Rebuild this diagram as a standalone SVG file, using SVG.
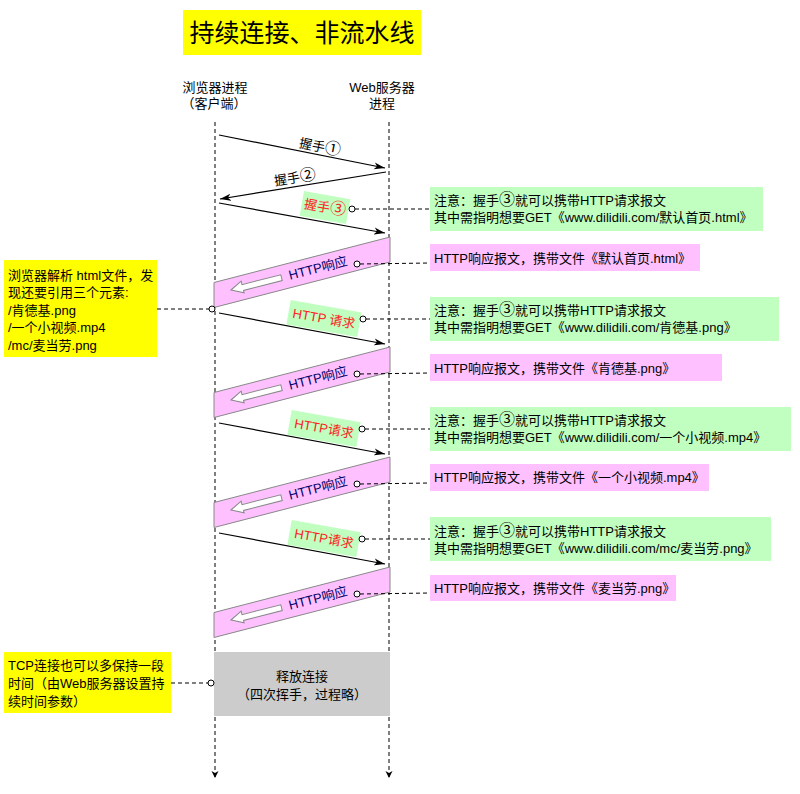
<svg xmlns="http://www.w3.org/2000/svg" width="800" height="794" viewBox="0 0 800 794">
<style>
text{font-family:"Liberation Sans","Noto Sans CJK SC",sans-serif;font-size:13px;fill:#000}
.mid{text-anchor:middle}
.cd{font-family:"Noto Sans CJK SC",sans-serif;font-size:16px}
.life{stroke:#000;stroke-width:1;stroke-dasharray:4,3;fill:none}
.msg{stroke:#000;stroke-width:1.2;fill:none}
.link{stroke:#000;stroke-width:1;stroke-dasharray:4,3;fill:none}
.dot{fill:#fff;stroke:#000;stroke-width:1}
.yel{fill:#ffff00}
.grn{fill:#c0ffc0}
.pnk{fill:#ffc0ff}
.resp{fill:#ffc0ff;stroke:#888;stroke-width:1}
.warr{fill:#fff;stroke:#888;stroke-width:1}
.red{fill:#ff2020}
.navy{fill:#000066}
</style>
<defs>
<marker id="ah" markerWidth="12" markerHeight="8" refX="11" refY="4" orient="auto" markerUnits="userSpaceOnUse"><path d="M0,0.5 L11,4 L0,7.5 L3,4 z" fill="#000"/></marker>
<marker id="lah" markerWidth="8" markerHeight="8" refX="7" refY="3.5" orient="auto" markerUnits="userSpaceOnUse"><path d="M0,0 L7,3.5 L0,7 L2,3.5 z" fill="#000"/></marker>
<polygon id="warrow" points="0,0 12,-6 12,-2.5 52,-2.5 52,3.5 12,3.5 12,6" class="warr"/>
</defs>
<rect width="800" height="794" fill="#fff"/>

<g id="title">
<rect x="183" y="10" width="238" height="45" class="yel"/>
<text x="302" y="42" class="mid" style="font-size:25px">持续连接、非流水线</text>
</g>

<g id="header-client">
<text x="215" y="92" class="mid">浏览器进程</text>
<text x="214" y="108" class="mid">（客户端）</text>
</g>
<g id="header-server">
<text x="382" y="92" class="mid">Web服务器</text>
<text x="382" y="108" class="mid">进程</text>
</g>

<g id="lifelines">
<line x1="215" y1="122" x2="215" y2="778" class="life" marker-end="url(#lah)"/>
<line x1="389" y1="122" x2="389" y2="778" class="life" marker-end="url(#lah)"/>
</g>

<g id="response1">
<polygon points="390,237 390,262 214,307.5 214,282.5" class="resp"/>
<use href="#warrow" transform="translate(231,290) rotate(-14.3)"/>
<text class="mid navy" transform="translate(318,268) rotate(-14.3)" y="4.5">HTTP响应</text>
</g>
<g id="response2">
<polygon points="390,347 390,372 214,417.5 214,392.5" class="resp"/>
<use href="#warrow" transform="translate(231,400) rotate(-14.3)"/>
<text class="mid navy" transform="translate(318,378) rotate(-14.3)" y="4.5">HTTP响应</text>
</g>
<g id="response3">
<polygon points="390,457 390,482 214,527.5 214,502.5" class="resp"/>
<use href="#warrow" transform="translate(231,510) rotate(-14.3)"/>
<text class="mid navy" transform="translate(318,488) rotate(-14.3)" y="4.5">HTTP响应</text>
</g>
<g id="response4">
<polygon points="390,567 390,592 214,637.5 214,612.5" class="resp"/>
<use href="#warrow" transform="translate(231,620) rotate(-14.3)"/>
<text class="mid navy" transform="translate(318,598) rotate(-14.3)" y="4.5">HTTP响应</text>
</g>

<g id="release">
<rect x="214" y="652" width="176" height="64" fill="#cccccc"/>
<text x="302" y="681" class="mid">释放连接</text>
<text x="302" y="698.5" class="mid">（四次挥手，过程略）</text>
</g>

<g id="connectors">
<line x1="219" y1="135" x2="385" y2="168" class="msg" marker-end="url(#ah)"/>
<line x1="386" y1="172" x2="220" y2="199" class="msg" marker-end="url(#ah)"/>
<line x1="219" y1="203" x2="385" y2="233" class="msg" marker-end="url(#ah)"/>
<line x1="219" y1="313" x2="385" y2="344" class="msg" marker-end="url(#ah)"/>
<line x1="219" y1="423" x2="385" y2="454" class="msg" marker-end="url(#ah)"/>
<line x1="219" y1="533" x2="385" y2="564" class="msg" marker-end="url(#ah)"/>

<line x1="355" y1="209" x2="430" y2="209" class="link"/>
<line x1="366" y1="319" x2="430" y2="319" class="link"/>
<line x1="365" y1="429" x2="430" y2="429" class="link"/>
<line x1="365" y1="539" x2="430" y2="539" class="link"/>
<line x1="360" y1="264" x2="430" y2="263" class="link"/>
<line x1="360" y1="374" x2="430" y2="373" class="link"/>
<line x1="360" y1="484" x2="430" y2="483" class="link"/>
<line x1="360" y1="594" x2="430" y2="593" class="link"/>
<line x1="157" y1="309" x2="209" y2="309" class="link"/>
<line x1="171" y1="683" x2="208" y2="683" class="link"/>
</g>

<g id="label-h1">
<text class="mid" transform="translate(320,147) rotate(11.2)" y="4.5">握手<tspan class="cd">①</tspan></text>
</g>
<g id="label-h2">
<text class="mid" transform="translate(295,178) rotate(-9.3)" y="4.5">握手<tspan class="cd">②</tspan></text>
</g>
<g id="label-h3" transform="translate(325,207.5) rotate(10)">
<rect x="-23.5" y="-12.5" width="47" height="25" class="grn"/>
<text class="mid red" y="4.5">握手<tspan class="cd">③</tspan></text>
</g>
<g id="label-req1" transform="translate(324,318.5) rotate(10)">
<rect x="-36" y="-12.5" width="72" height="25" class="grn"/>
<text class="mid red" y="4.5">HTTP 请求</text>
</g>
<g id="label-req2" transform="translate(324,428.5) rotate(10)">
<rect x="-35" y="-12.5" width="70" height="25" class="grn"/>
<text class="mid red" y="4.5">HTTP请求</text>
</g>
<g id="label-req3" transform="translate(324,538.5) rotate(10)">
<rect x="-35" y="-12.5" width="70" height="25" class="grn"/>
<text class="mid red" y="4.5">HTTP请求</text>
</g>

<g id="dots">
<circle cx="352" cy="209" r="3" class="dot"/>
<circle cx="363" cy="319" r="3" class="dot"/>
<circle cx="362" cy="429" r="3" class="dot"/>
<circle cx="362" cy="539" r="3" class="dot"/>
<circle cx="357" cy="264" r="3" class="dot"/>
<circle cx="357" cy="374" r="3" class="dot"/>
<circle cx="357" cy="484" r="3" class="dot"/>
<circle cx="357" cy="594" r="3" class="dot"/>
<circle cx="212" cy="309" r="3" class="dot"/>
<circle cx="211" cy="683" r="3" class="dot"/>
</g>

<g id="note-req1">
<rect x="430" y="187" width="333" height="44" class="grn"/>
<text x="434" y="205">注意：握手<tspan class="cd">③</tspan>就可以携带HTTP请求报文</text>
<text x="434" y="222">其中需指明想要GET《www.dilidili.com/默认首页.html》</text>
</g>
<g id="note-resp1">
<rect x="430" y="244" width="270" height="27" class="pnk"/>
<text x="434" y="263">HTTP响应报文，携带文件《默认首页.html》</text>
</g>
<g id="note-req2">
<rect x="430" y="297" width="349" height="44" class="grn"/>
<text x="434" y="315">注意：握手<tspan class="cd">③</tspan>就可以携带HTTP请求报文</text>
<text x="434" y="332">其中需指明想要GET《www.dilidili.com/肯德基.png》</text>
</g>
<g id="note-resp2">
<rect x="430" y="354" width="292" height="27" class="pnk"/>
<text x="434" y="373">HTTP响应报文，携带文件《肯德基.png》</text>
</g>
<g id="note-req3">
<rect x="430" y="407" width="361" height="44" class="grn"/>
<text x="434" y="425">注意：握手<tspan class="cd">③</tspan>就可以携带HTTP请求报文</text>
<text x="434" y="442">其中需指明想要GET《www.dilidili.com/一个小视频.mp4》</text>
</g>
<g id="note-resp3">
<rect x="430" y="464" width="279" height="27" class="pnk"/>
<text x="434" y="482">HTTP响应报文，携带文件《一个小视频.mp4》</text>
</g>
<g id="note-req4">
<rect x="430" y="517" width="341" height="44" class="grn"/>
<text x="434" y="536">注意：握手<tspan class="cd">③</tspan>就可以携带HTTP请求报文</text>
<text x="434" y="553">其中需指明想要GET《www.dilidili.com/mc/麦当劳.png》</text>
</g>
<g id="note-resp4">
<rect x="430" y="575" width="246" height="26" class="pnk"/>
<text x="434" y="593">HTTP响应报文，携带文件《麦当劳.png》</text>
</g>

<g id="note-parse">
<rect x="4" y="260" width="153" height="97" class="yel"/>
<text x="8" y="279.5">浏览器解析 html文件，发</text>
<text x="8" y="297">现还要引用三个元素:</text>
<text x="8" y="314.5">/肯德基.png</text>
<text x="8" y="332">/一个小视频.mp4</text>
<text x="8" y="349.5">/mc/麦当劳.png</text>
</g>
<g id="note-keep">
<rect x="4" y="652" width="167" height="61" class="yel"/>
<text x="8" y="669.5">TCP连接也可以多保持一段</text>
<text x="8" y="687.5">时间（由Web服务器设置持</text>
<text x="8" y="705.5">续时间参数）</text>
</g>
</svg>
